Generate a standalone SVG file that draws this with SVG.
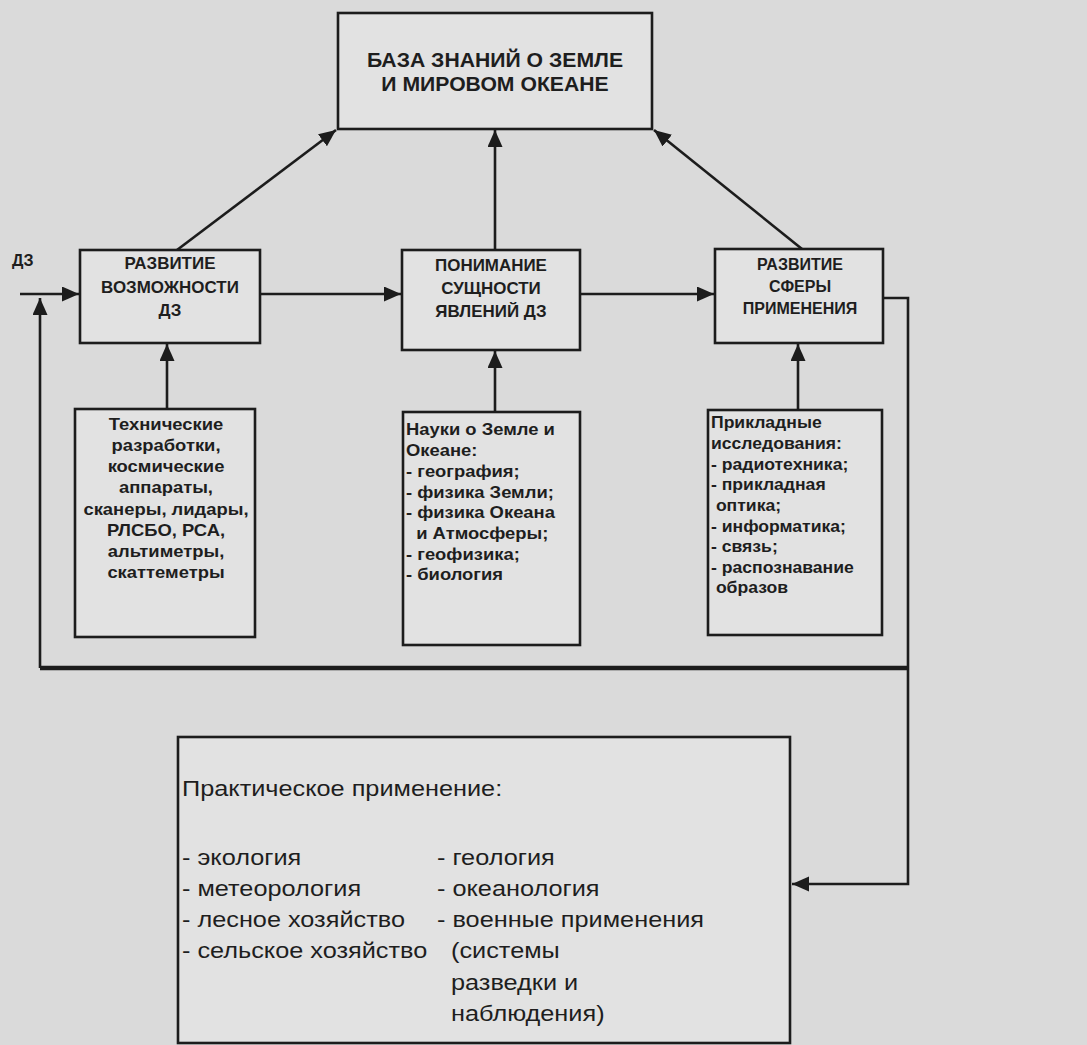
<svg xmlns="http://www.w3.org/2000/svg" width="1087" height="1045" viewBox="0 0 1087 1045">
<style>
.bg{fill:#dadada}
.box{fill:#e2e2e2;stroke:#1c1c1c;stroke-width:2.6}
.ln{fill:none;stroke:#1c1c1c;stroke-width:2.6}
.thick{fill:none;stroke:#1c1c1c;stroke-width:4.5}
text{font-family:"Liberation Sans",Arial,sans-serif;fill:#1e1e1e;transform-box:fill-box}
.t{font-size:20px;font-weight:bold;text-anchor:middle;transform-origin:50% 0;transform:scaleX(1.06)}
.h{font-size:16px;font-weight:bold;text-anchor:middle;transform-origin:50% 0;transform:scaleX(1.06)}
.h3{font-size:16px;font-weight:bold;text-anchor:middle}
.sc{font-size:16px;font-weight:bold;text-anchor:middle;transform-origin:50% 0;transform:scaleX(1.15)}
.s{font-size:16px;font-weight:bold;transform-origin:0 0;transform:scaleX(1.15)}
.p{font-size:16px;font-weight:bold;transform-origin:0 0;transform:scaleX(1.1)}
.r{font-size:22px;transform-origin:0 0;transform:scaleX(1.15)}
</style>
<defs>
<marker id="a" markerUnits="userSpaceOnUse" markerWidth="18" markerHeight="16" refX="17" refY="7.5" orient="auto">
<path d="M0,0 L17,7.5 L0,15 z" fill="#1c1c1c"/>
</marker>
</defs>
<rect class="bg" x="0" y="0" width="1087" height="1045"/>

<g id="connectors">
<line class="ln" x1="20" y1="294" x2="79" y2="294" marker-end="url(#a)"/>
<line class="ln" x1="40" y1="668" x2="40" y2="298" marker-end="url(#a)"/>
<line class="ln" x1="177" y1="250" x2="336" y2="130" marker-end="url(#a)"/>
<line class="ln" x1="260" y1="294" x2="401" y2="294" marker-end="url(#a)"/>
<line class="ln" x1="495" y1="250" x2="495" y2="130" marker-end="url(#a)"/>
<line class="ln" x1="580" y1="294" x2="714" y2="294" marker-end="url(#a)"/>
<line class="ln" x1="802" y1="249" x2="654" y2="130" marker-end="url(#a)"/>
<line class="ln" x1="167" y1="409" x2="167" y2="344" marker-end="url(#a)"/>
<line class="ln" x1="495" y1="412" x2="495" y2="351" marker-end="url(#a)"/>
<line class="ln" x1="798" y1="410" x2="798" y2="344" marker-end="url(#a)"/>
<polyline class="ln" points="883,298 908,298 908,884 792,884" marker-end="url(#a)"/>
<polyline class="thick" points="908,668 40,668"/>
<text x="12" y="266" style="font-size:16px;font-weight:bold">ДЗ</text>
</g>

<g id="node-base">
<rect class="box" x="338" y="13" width="314" height="116"/>
<text class="t" x="495" y="67">БАЗА ЗНАНИЙ О ЗЕМЛЕ</text>
<text class="t" x="495" y="91">И МИРОВОМ ОКЕАНЕ</text>
</g>

<g id="node-razvitie-dz">
<rect class="box" x="80" y="250" width="180" height="93"/>
<text class="h" x="170" y="269">РАЗВИТИЕ</text>
<text class="h" x="170" y="293">ВОЗМОЖНОСТИ</text>
<text class="h" x="170" y="316">ДЗ</text>
</g>

<g id="node-ponimanie">
<rect class="box" x="402" y="250" width="178" height="100"/>
<text class="h" x="491" y="271">ПОНИМАНИЕ</text>
<text class="h" x="491" y="294">СУЩНОСТИ</text>
<text class="h" x="491" y="317">ЯВЛЕНИЙ ДЗ</text>
</g>

<g id="node-razvitie-sfery">
<rect class="box" x="715" y="249" width="168" height="94"/>
<text class="h3" x="800" y="270">РАЗВИТИЕ</text>
<text class="h3" x="800" y="292">СФЕРЫ</text>
<text class="h3" x="800" y="314">ПРИМЕНЕНИЯ</text>
</g>

<g id="node-tech">
<rect class="box" x="75" y="409" width="180" height="228"/>
<text class="sc" x="166" y="430">Технические</text>
<text class="sc" x="166" y="451">разработки,</text>
<text class="sc" x="166" y="472">космические</text>
<text class="sc" x="166" y="493">аппараты,</text>
<text class="sc" x="166" y="515">сканеры, лидары,</text>
<text class="sc" x="166" y="536">РЛСБО, РСА,</text>
<text class="sc" x="166" y="557">альтиметры,</text>
<text class="sc" x="166" y="578">скаттеметры</text>
</g>

<g id="node-nauki">
<rect class="box" x="403" y="412" width="177" height="233"/>
<text class="s" x="406" y="435">Науки о Земле и</text>
<text class="s" x="406" y="456">Океане:</text>
<text class="s" x="406" y="477">- география;</text>
<text class="s" x="406" y="498">- физика Земли;</text>
<text class="s" x="406" y="518">- физика Океана</text>
<text class="s" x="406" y="539" xml:space="preserve">  и Атмосферы;</text>
<text class="s" x="406" y="560">- геофизика;</text>
<text class="s" x="406" y="580">- биология</text>
</g>

<g id="node-prikladnye">
<rect class="box" x="708" y="410" width="174" height="225"/>
<text class="p" x="711" y="428">Прикладные</text>
<text class="p" x="711" y="449">исследования:</text>
<text class="p" x="711" y="470">- радиотехника;</text>
<text class="p" x="711" y="490">- прикладная</text>
<text class="p" x="711" y="511" xml:space="preserve"> оптика;</text>
<text class="p" x="711" y="532">- информатика;</text>
<text class="p" x="711" y="552">- связь;</text>
<text class="p" x="711" y="573">- распознавание</text>
<text class="p" x="711" y="593" xml:space="preserve"> образов</text>
</g>

<g id="node-practice">
<rect class="box" x="178" y="737" width="612" height="306"/>
<text class="r" x="182" y="796">Практическое применение:</text>
<text class="r" x="182" y="865">- экология</text>
<text class="r" x="182" y="896">- метеорология</text>
<text class="r" x="182" y="927">- лесное хозяйство</text>
<text class="r" x="182" y="958">- сельское хозяйство</text>
<text class="r" x="437" y="865">- геология</text>
<text class="r" x="437" y="896">- океанология</text>
<text class="r" x="437" y="927">- военные применения</text>
<text class="r" x="437" y="958" xml:space="preserve">  (системы</text>
<text class="r" x="437" y="990" xml:space="preserve">  разведки и</text>
<text class="r" x="437" y="1021" xml:space="preserve">  наблюдения)</text>
</g>
</svg>
